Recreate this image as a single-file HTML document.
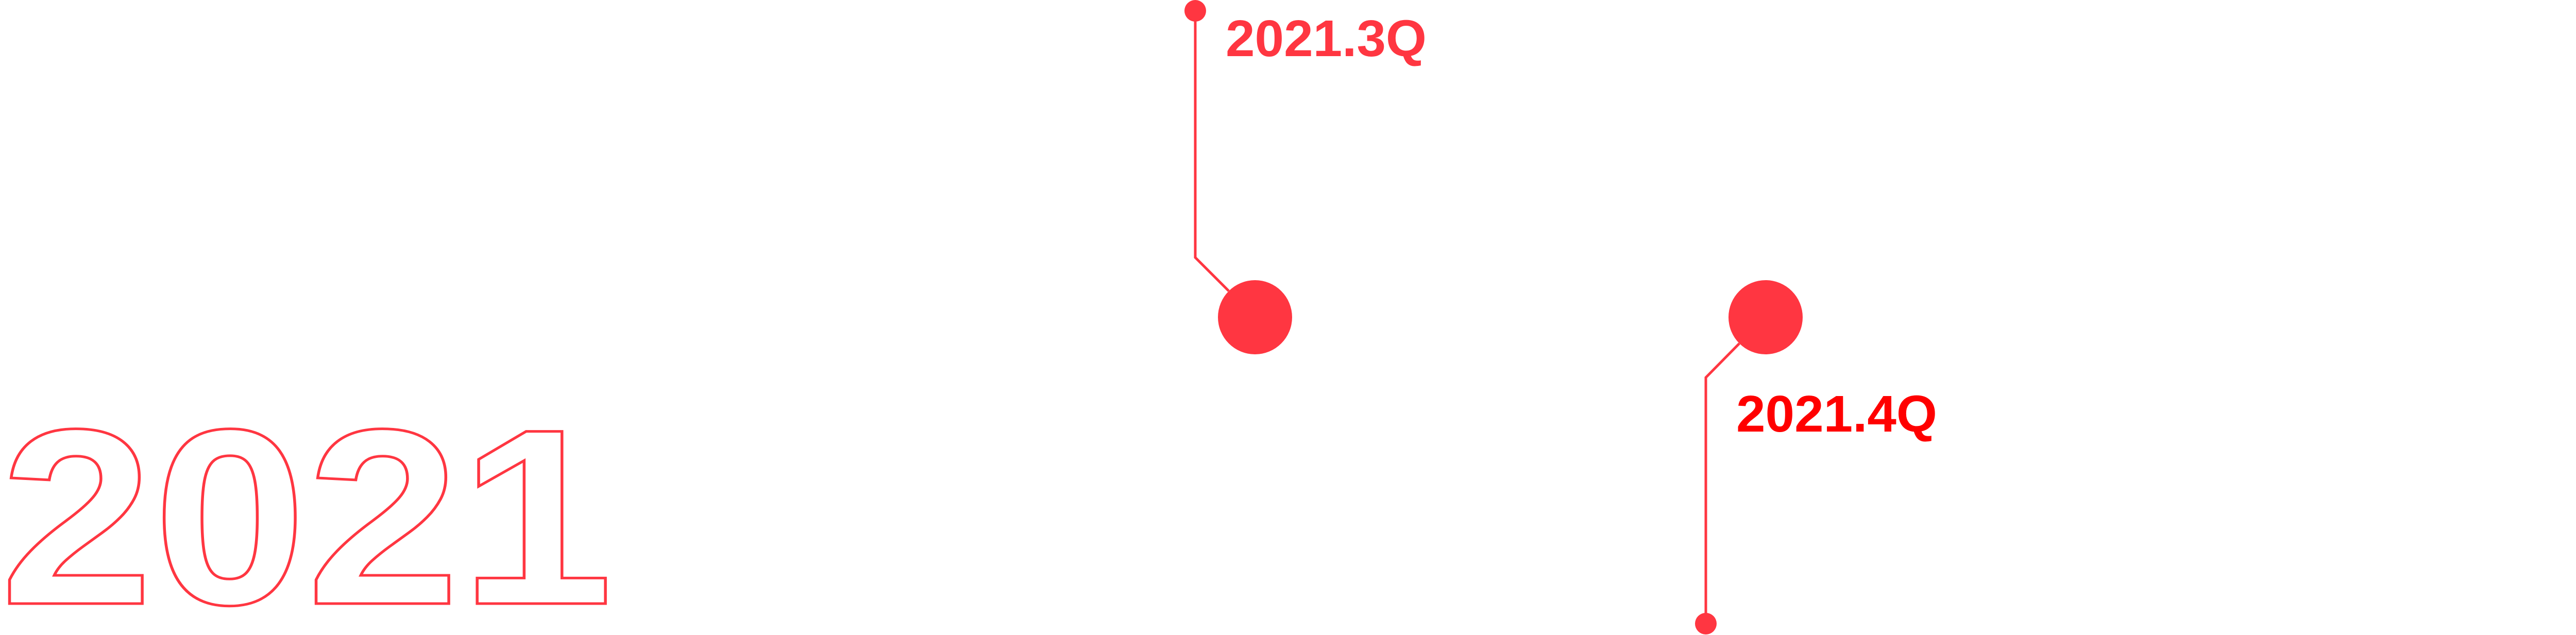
<!DOCTYPE html>
<html><head><meta charset="utf-8"><style>
html,body{margin:0;padding:0;background:#fff;}
svg{display:block;}
</style></head><body>
<svg width="5118" height="1233" viewBox="0 0 5118 1233" xmlns="http://www.w3.org/2000/svg">
  <text x="0" y="1172" font-family="Liberation Sans, sans-serif" font-weight="bold" font-size="486" textLength="1190" lengthAdjust="spacingAndGlyphs" fill="#fff" stroke="#ff3641" stroke-width="5">2021</text>
  <g id="marks"></g>
</svg>
<script>
const quarters = ["2021.3Q", "2021.4Q"];
const quarterIndex = [0, 1];
const labelSide = ["top", "bottom"];
const labelColors = ["#ff3641", "#ff0000"];

const NS = "http://www.w3.org/2000/svg";
const g = document.getElementById("marks");
function xScale(i){ return 2436 + i * 991; }
const cy = 616, R = 72, r = 21;
function mk(tag, attrs){ const e = document.createElementNS(NS, tag); for (const k in attrs) e.setAttribute(k, attrs[k]); g.appendChild(e); return e; }

quarters.forEach(function(q, k){
  const cx = xScale(quarterIndex[k]);
  const top = labelSide[k] === "top";
  const lx = cx - 116;
  const bend = top ? cy - 116 : cy + 117;
  const end = top ? 21 : 1211;
  const sx = cx - 51;
  const sy = top ? cy - 51 : cy + 51;
  const line = mk("polyline", {points: sx + "," + sy + " " + lx + "," + bend + " " + lx + "," + end, fill: "none", stroke: "#ff3641", "stroke-width": 5});
  
  
  const big = mk("circle", {cx: cx, cy: cy, r: R, fill: "#ff3641"});
  
  
  const dot = mk("circle", {cx: lx, cy: end, r: r, fill: "#ff3641"});
  
  
  const t = mk("text", {x: lx + 59, y: top ? 109 : 838, "font-family": "Liberation Sans, sans-serif", "font-weight": "bold", "font-size": 100, fill: labelColors[k], textLength: 390, lengthAdjust: "spacingAndGlyphs"});
  t.textContent = q;
  
  
});
</script>
</body></html>
